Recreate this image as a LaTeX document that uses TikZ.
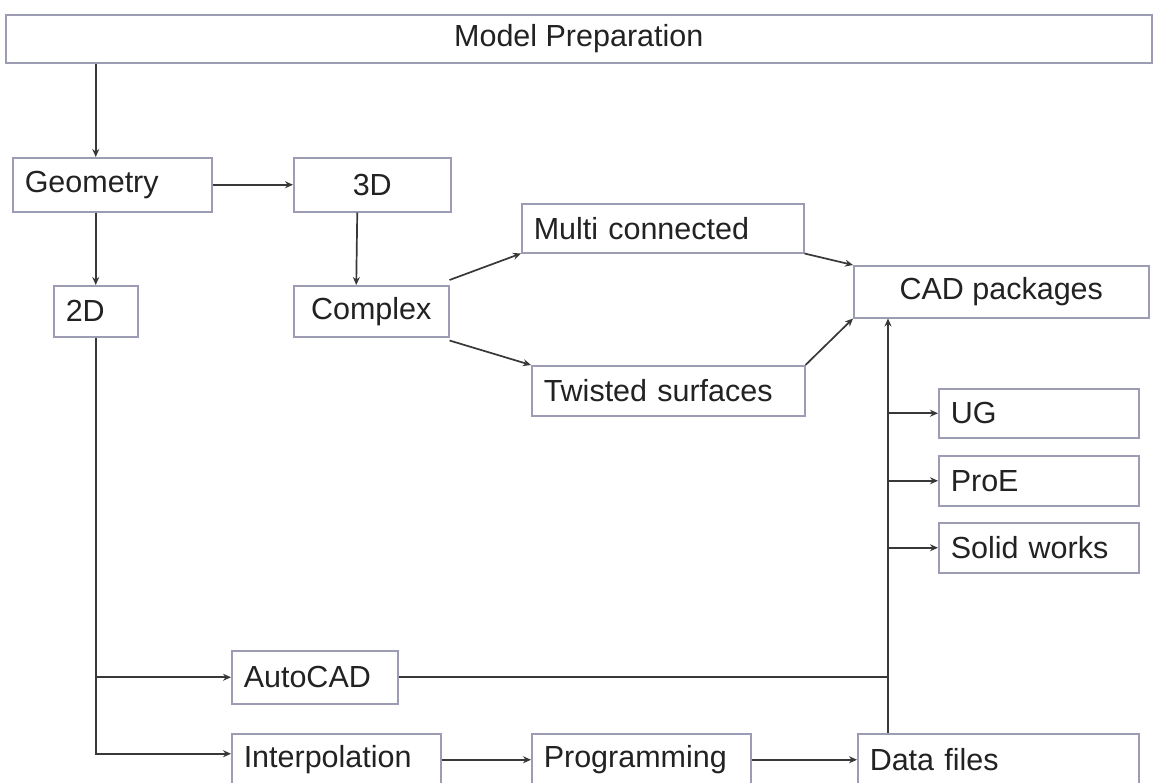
\documentclass[tikz,border=0pt]{standalone}
\usepackage{fontspec}
\setmainfont{Liberation Sans}
\usetikzlibrary{arrows.meta}
\definecolor{boxc}{HTML}{9C9CB4}
\definecolor{linec}{HTML}{383838}
\definecolor{txt}{HTML}{222222}
\tikzset{
  box/.style={draw=boxc, line width=1.5pt, inner ysep=0pt, inner xsep=12pt, anchor=north west,
    font=\fontsize{30.5}{33}\selectfont, text=txt, fill=white},
  lbox/.style 2 args={box, text width=#1, minimum height=#2, align=left},
  cbox/.style 2 args={box, minimum width=#1, minimum height=#2},
  arr/.style={draw=linec, line width=1.7pt, -{Stealth[length=8pt,width=7pt]}},
  plain/.style={draw=linec, line width=1.7pt}
}
\begin{document}
\begin{tikzpicture}[x=1pt,y=-1pt]
\useasboundingbox[fill=white] (0,0) rectangle (1154,782);
% boxes
\node[cbox={1146pt}{48pt}] (prep) at (5,14) {Model Preparation};
\node[lbox={175pt}{54pt}] (geom) at (12,157) {Geometry};
\node[cbox={157pt}{54pt}] (three) at (293,157) {3D};
\node[lbox={60pt}{51pt}] (two) at (53,285) {2D};
\node[cbox={155pt}{51pt}] (complex) at (293,285) {Complex};
\node[lbox={258pt}{49pt}] (multi) at (521,203) {Multi connected};
\node[lbox={249pt}{50pt}] (twisted) at (531,365) {Twisted surfaces};
\node[cbox={295pt}{52pt}] (cad) at (853,265) {CAD packages};
\node[lbox={176pt}{49pt}] (ug) at (938,388) {UG};
\node[lbox={176pt}{50pt}] (proe) at (938,455) {ProE};
\node[lbox={176pt}{50pt}] (solid) at (938,522) {Solid works};
\node[lbox={142pt}{53pt}] (auto) at (231,650) {AutoCAD};
\node[lbox={185pt}{52pt}] (interp) at (231,733) {Interpolation};
\node[lbox={195pt}{52pt}] (prog) at (531,733) {Programming};
\node[lbox={257pt}{52pt}] (data) at (857,733) {Data files};
\coordinate (bus) at (888,600);
% connectors
\draw[arr] (prep.south -| two.north) -- (geom.north -| two.north);
\draw[arr] (geom.south -| two.north) -- (two.north);
\draw[arr] (geom.east) -- (three.west);
\draw[arr] ([xshift=-15pt]three.south) -- ([xshift=-15pt]complex.north);
\draw[arr] ([yshift=5pt]complex.north east) -- (multi.south west);
\draw[arr] ([yshift=-3pt]complex.south east) -- (twisted.north west);
\draw[arr] (multi.south east) -- (cad.north west);
\draw[arr] (twisted.north east) -- (cad.south west);
\draw[arr] (data.north -| bus) -- (cad.south -| bus);
\draw[arr] (ug.west -| bus) -- (ug.west);
\draw[arr] (proe.west -| bus) -- (proe.west);
\draw[arr] (solid.west -| bus) -- (solid.west);
\draw[plain] (auto.east) -- (auto.east -| bus);
\draw[arr] (auto.west -| two.south) -- (auto.west);
\draw[arr] (two.south) |- ([yshift=6pt]interp.west);
\draw[arr] (interp.east) -- (prog.west);
\draw[arr] (prog.east) -- (data.west);
\end{tikzpicture}
\end{document}
